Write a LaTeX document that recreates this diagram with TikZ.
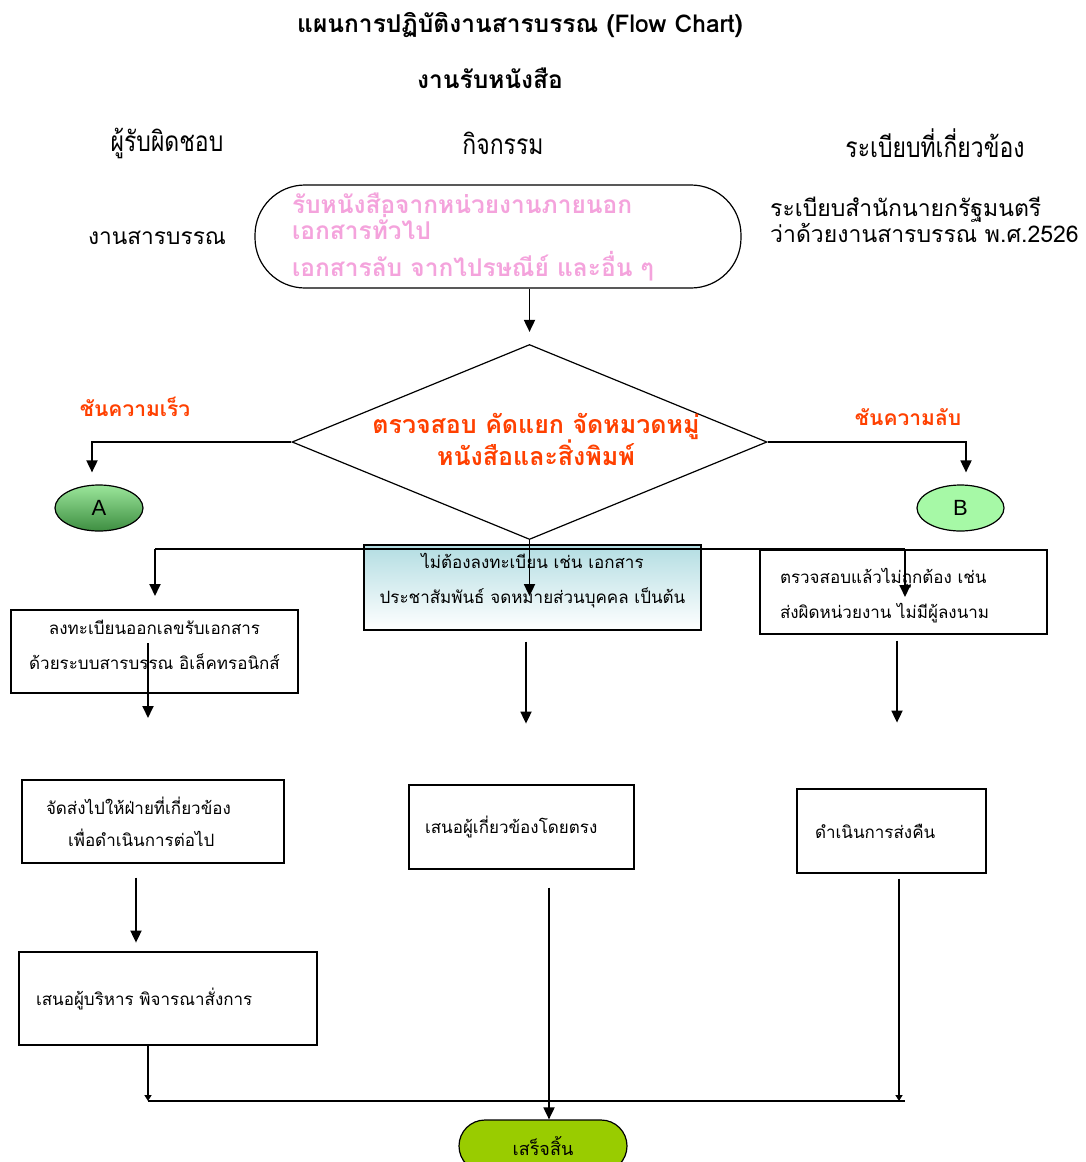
\documentclass[tikz,border=0pt]{standalone}
\usepackage{fontspec}
\setmainfont{Loma}[Script=Thai]
\newfontfamily\narrowfont{Loma}[Script=Thai,FakeStretch=0.82]
\newfontfamily\latinfont{Liberation Sans}
\usetikzlibrary{shapes.geometric,arrows.meta,calc}
\definecolor{pinktxt}{HTML}{F4A3DC}
\definecolor{redtxt}{HTML}{FF4000}
\definecolor{greenA}{HTML}{9BE69B}
\definecolor{greenAd}{HTML}{3E8E41}
\definecolor{greenB}{HTML}{A6F9A6}
\definecolor{tealtop}{HTML}{B3DDE2}
\definecolor{endgreen}{HTML}{99CC00}

\begin{document}
\begin{tikzpicture}[x=1pt,y=-1pt]
\tikzstyle{every node}+=[inner sep=0pt]
\tikzstyle{box}=[draw, line width=1.2pt, minimum height=84pt, font=\fontsize{17}{35}\selectfont]
\tikzstyle{boxl}=[box, align=left]
\tikzstyle{boxtxt}=[align=center, font=\fontsize{17}{35}\selectfont]
\tikzstyle{arr}=[-{Triangle[width=11pt,length=12pt]}, line width=1.8pt]
\tikzstyle{hdr}=[font=\narrowfont\fontsize{28}{32}\selectfont]
\tikzstyle{redlbl}=[text=redtxt, font=\bfseries\fontsize{21}{24}\selectfont]
\useasboundingbox (0,0) rectangle (1085,1162);
\clip (0,0) rectangle (1085,1162);
% headings
\node (title) at (520,25) [font=\bfseries\fontsize{24.5}{28}\selectfont] {แผนการปฏิบัติงานสารบรรณ (Flow Chart)};
\node (subtitle) at (490,78) [font=\bfseries\fontsize{24.5}{28}\selectfont] {งานรับหนังสือ};
\node (hresp) at (167,143) [hdr] {ผู้รับผิดชอบ};
\node (hact) at (503,143) [hdr] {กิจกรรม};
\node (hreg) at (935,143) [hdr] {ระเบียบที่เกี่ยวข้อง};
\node (resp) at (157,238) [font=\fontsize{22.7}{26}\selectfont] {งานสารบรรณ};
\node (reg) at (770,220) [anchor=west, align=left, font=\fontsize{23}{25}\selectfont] {ระเบียบสำนักนายกรัฐมนตรี\\ว่าด้วยงานสารบรรณ พ.ศ.2526};
% start
\node (start) at (498,236.5) [draw, line width=1.2pt, rounded corners=50pt, minimum width=486pt, minimum height=103pt,
  inner xsep=37pt, text width=412pt, align=left, text=pinktxt, font=\bfseries\fontsize{24.5}{26}\selectfont]
  {รับหนังสือจากหน่วยงานภายนอก\\เอกสารทั่วไป\\[11pt]เอกสารลับ จากไปรษณีย์ และอื่น ๆ};
% decision
\node (dia) at (529.5,442) [diamond, draw, line width=1.2pt, minimum width=475pt, minimum height=195pt,
  label={[text=redtxt, align=center, xshift=6.5pt, yshift=3pt, font=\bfseries\fontsize{25}{32}\selectfont]center:{ตรวจสอบ คัดแยก จัดหมวดหมู่\\หนังสือและสิ่งพิมพ์}}] {};
\node (fast) at (135,407) [redlbl] {ชันความเร็ว};
\node (secret) at (908,417) [redlbl] {ชันความลับ};
\node (A) at (99,508) [ellipse, draw, line width=1.2pt, minimum width=88pt, minimum height=46pt,
  top color=greenA, bottom color=greenAd, font=\latinfont\fontsize{22}{24}\selectfont] {A};
\node (B) at (960.5,508) [ellipse, draw, line width=1.2pt, minimum width=87pt, minimum height=46pt,
  fill=greenB, font=\latinfont\fontsize{22}{24}\selectfont] {B};
% boxes
\node (mid1) at (532.5,587.5) [box, minimum width=337pt, minimum height=85pt, top color=tealtop, bottom color=white,
  label={[boxtxt, yshift=6.5pt]center:{ไม่ต้องลงทะเบียน เช่น เอกสาร\\ประชาสัมพันธ์ จดหมายส่วนบุคคล เป็นต้น}}] {};
\node (L1) at (154.5,651.5) [box, minimum width=287pt, minimum height=83pt,
  label={[boxtxt, yshift=7pt]center:{ลงทะเบียนออกเลขรับเอกสาร\\ด้วยระบบสารบรรณ อิเล็คทรอนิกส์}}] {};
\node (R1) at (903.5,592) [boxl, minimum width=287pt, inner xsep=20pt, text width=247pt,
  label={[boxtxt, align=left, text width=247pt, yshift=-4pt]center:{ตรวจสอบแล้วไม่ถูกต้อง เช่น\\ส่งผิดหน่วยงาน ไม่มีผู้ลงนาม}}] {};
\node (L2) at (153,821.5) [boxl, minimum width=262pt, minimum height=83pt, inner xsep=24pt, text width=214pt, font=\fontsize{17}{32}\selectfont]
  {จัดส่งไปให้ฝ่ายที่เกี่ยวข้อง\\\hspace*{22pt}เพื่อดำเนินการต่อไป};
\node (L3) at (168,998.5) [boxl, minimum width=298pt, minimum height=93pt, inner xsep=17pt, text width=264pt]
  {เสนอผู้บริหาร พิจารณาสั่งการ};
\node (M2) at (521.5,827) [boxl, minimum width=225pt, inner xsep=16pt, text width=193pt]
  {เสนอผู้เกี่ยวข้องโดยตรง};
\node (R2) at (891.5,831) [boxl, minimum width=189pt, inner xsep=18pt, text width=153pt]
  {ดำเนินการส่งคืน};
\node (endn) at (543,1146) [draw, line width=1.2pt, rounded corners=26pt, minimum width=168pt, minimum height=52pt,
  fill=endgreen, font=\fontsize{18}{22}\selectfont] {เสร็จสิ้น};
% connectors
\coordinate (sl) at (155,549);
\coordinate (sr) at (905,549);
\coordinate (bl) at (148,1101);
\coordinate (br) at (899,1101);
\draw[arr, shorten >=12pt] (start.south -| dia.north) -- (dia.north);
\draw[arr, shorten >=12pt] (dia.west) -| ($(A.north)+(-7,0)$);
\draw[arr, shorten >=12pt] (dia.east) -| ($(B.north)+(5.5,0)$);
\draw[line width=1.5pt] (sl) -- (sr);
\draw[arr] (sl) -- ++(0,47);
\draw[arr] (sr) -- ++(0,48);
\draw[arr] (dia.south) -- ++(0,56);
\draw[arr] ($(L1.center)+(-6.5,-8.5)$) -- ++(0,75);
\draw[arr] ($(mid1.south)+(-6.5,11)$) -- ++(0,82);
\draw[arr] ($(R1.south)+(-6.5,6)$) -- ++(0,82);
\draw[arr] ($(L2.south)+(-17,14)$) -- ++(0,65);
\draw[line width=1.5pt] (bl) -- ($(br)+(6,0)$);
\draw[arr, -{Triangle[width=7pt,length=6pt]}] (L3.south -| bl) -- (bl);
\draw[arr, -{Triangle[width=7pt,length=6pt]}, shorten <=5pt] (R2.south -| br) -- (br);
\draw[arr, shorten <=18pt] ($(M2.south -| endn.north)+(6,0)$) -- ($(endn.north)+(6,0)$);
\end{tikzpicture}
\end{document}
